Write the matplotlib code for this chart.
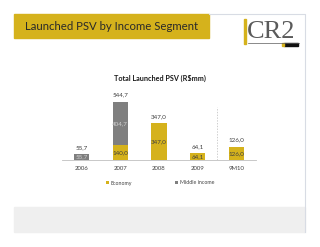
import matplotlib

matplotlib.use("Agg")
import matplotlib.pyplot as plt
from matplotlib.patches import Rectangle
import numpy as np

plt.rcParams["font.family"] = ["Lato", "DejaVu Sans"]

years = ["2006", "2007", "2008", "2009", "9M10"]
economy = [0.0, 140.0, 347.0, 64.1, 126.0]
middle = [55.7, 404.7, 0.0, 0.0, 0.0]
totals = [55.7, 544.7, 347.0, 64.1, 126.0]

YELLOW = "#D5B21C"
GREY = "#7F7F7F"
TXT = "#404040"

W, H = 320, 247
fig = plt.figure(figsize=(W / 100, H / 100), dpi=100)


def px(x, y, w, h):
    # pixel box (from top-left) -> figure fraction
    return [x / W, 1 - (y + h) / H, w / W, h / H]


# page frame and header band
bg = fig.add_axes([0, 0, 1, 1])
bg.set_xlim(0, W)
bg.set_ylim(H, 0)
bg.axis("off")
bg.plot([209, 305, 305], [14, 14, 232], color="#D8DCE4", lw=0.8)
bg.add_patch(Rectangle((14, 14), 195, 24, color=YELLOW))
bg.text(25, 26.5, "Launched PSV by Income Segment", fontsize=8.2,
        color="#2A2A2A", va="center", ha="left")

# logo
bg.add_patch(Rectangle((244, 19), 1.8, 25, color=YELLOW))
bg.text(246.5, 32, "CR2", family="Liberation Serif", fontsize=19,
        color="#5A5A5A", va="center", ha="left")
bg.plot([248, 299], [43, 43], color="#5A5A5A", lw=0.5)
bg.add_patch(Rectangle((284, 43.5), 14, 3, color="#111111"))
bg.add_patch(Rectangle((281.5, 43.5), 2.5, 3, color=YELLOW))

# footer skyline band
bg.add_patch(Rectangle((14, 207), 291, 25, color="#EFEFEF"))

# chart
ax = fig.add_axes(px(62, 96, 194, 64))
x = np.arange(len(years))
bw = 0.39
ax.bar(x, economy, bw, color=YELLOW, label="Economy")
ax.bar(x, middle, bw, bottom=economy, color=GREY, label="Middle income")
ax.set_xlim(-0.5, len(years) - 0.5)
ax.set_ylim(0, 600)

for i in range(len(years)):
    ax.text(x[i], totals[i] + 40, "{:.1f}".format(totals[i]).replace(".", ","),
            ha="center", va="bottom", fontsize=4.5, color=TXT)
    if economy[i] > 0:
        ax.text(x[i], economy[i] / 2, "{:.1f}".format(economy[i]).replace(".", ","),
                ha="center", va="center", fontsize=4.5, color=TXT)
    if middle[i] > 0:
        ax.text(x[i], economy[i] + middle[i] / 2,
                "{:.1f}".format(middle[i]).replace(".", ","),
                ha="center", va="center", fontsize=4.5, color="#D0D0D0")

ax.axvline(3.5, ymin=0, ymax=0.83, color="#BBBBBB", ls=(0, (2, 2)), lw=0.5)

for s in ["top", "right", "left"]:
    ax.spines[s].set_visible(False)
ax.spines["bottom"].set_color("#BFBFBF")
ax.spines["bottom"].set_linewidth(0.6)
ax.set_yticks([])
ax.set_xticks(x)
ax.set_xticklabels(years, fontsize=4.3, color=TXT)
ax.tick_params(axis="x", length=0, pad=4)

fig.text(160 / W, 1 - 78 / H, "Total Launched PSV (R$mm)", fontsize=5.2,
         fontweight="bold", color="#1A1A1A", ha="center", va="center")

fig.legend(loc="center", bbox_to_anchor=(160 / W, 1 - 183 / H), ncol=2,
           fontsize=3.8, frameon=False, handlelength=0.6, handleheight=0.6,
           columnspacing=8, handletextpad=0.4, labelcolor=TXT)

fig.savefig("out.png", dpi=100)
